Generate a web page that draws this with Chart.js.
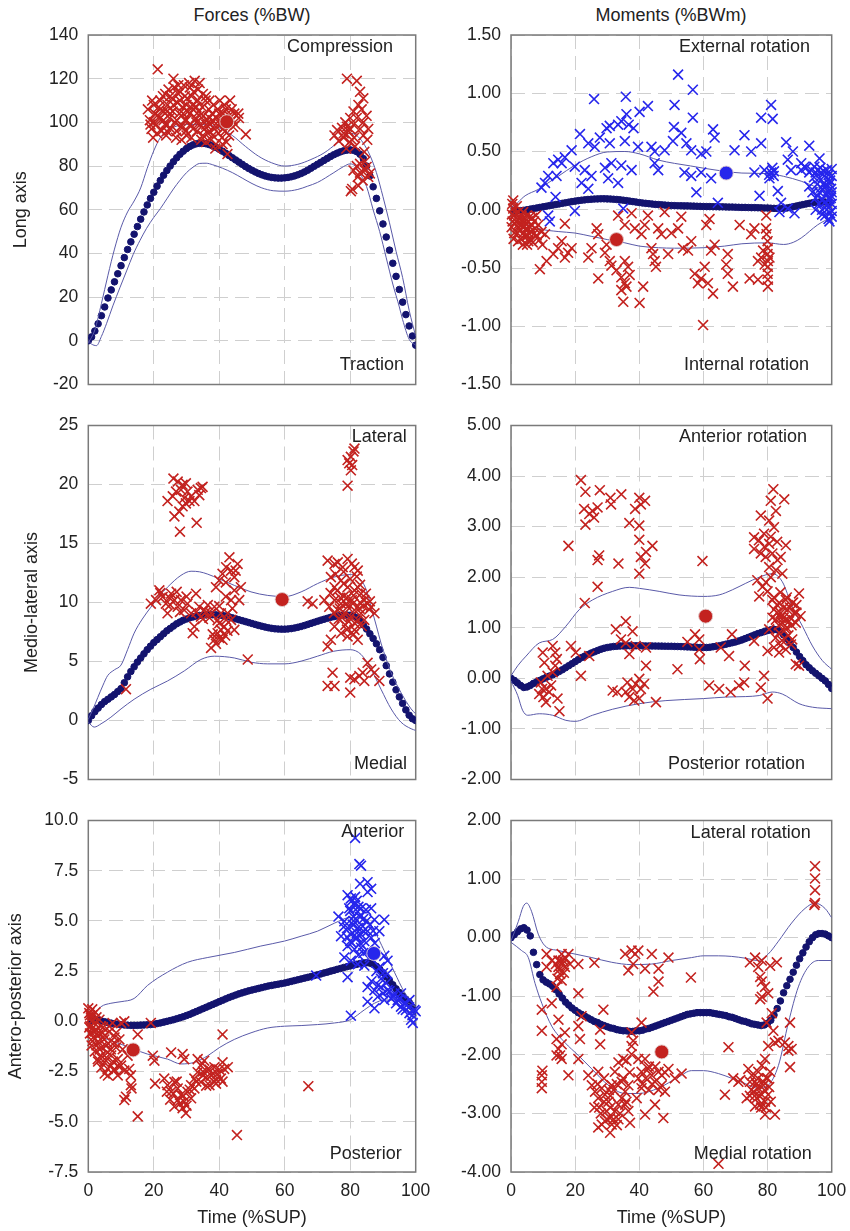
<!DOCTYPE html>
<html>
<head>
<meta charset="utf-8">
<script src="https://cdn.jsdelivr.net/npm/chart.js@4.4.1/dist/chart.umd.min.js"></script>
<style>
  body { margin: 0; background: #fff; font-family: "Liberation Sans", Arial, sans-serif; }
  #page { position: relative; width: 850px; height: 1231px; overflow: hidden; }
  canvas { position: absolute; }
  .coltitle { position: absolute; top: 5px; font-size: 18px; color: #222; transform: translateX(-50%); white-space: nowrap; }
</style>
</head>
<body>
<div id="page">
  <div class="coltitle" style="left:252px">Forces (%BW)</div>
  <div class="coltitle" style="left:671px">Moments (%BWm)</div>
  <canvas id="c0" width="450" height="405" style="left:0;top:0"></canvas>
  <canvas id="c1" width="425" height="405" style="left:425px;top:0"></canvas>
  <canvas id="c2" width="450" height="395" style="left:0;top:405px"></canvas>
  <canvas id="c3" width="425" height="395" style="left:425px;top:405px"></canvas>
  <canvas id="c4" width="450" height="431" style="left:0;top:800px"></canvas>
  <canvas id="c5" width="425" height="431" style="left:425px;top:800px"></canvas>
</div>
<script>
// ---- data: mean curves, one value per 1 %SUP (0..100) ----
const tlMean = [0,1.8,4.5,7.8,11.5,15.5,19.6,23.3,27,30.7,34.4,38.1,41.8,45.3,48.8,52.3,55.7,59,62.2,65.2,68,70.8,73.4,75.8,78,80,82,83.8,85.4,86.8,88,89,89.7,90.2,90.4,90.4,90.2,89.8,89.2,88.5,87.7,86.8,85.8,84.8,83.8,82.8,81.8,80.8,79.8,78.9,78.1,77.3,76.6,76,75.5,75.1,74.8,74.6,74.5,74.5,74.6,74.8,75.1,75.5,76,76.6,77.3,78.1,79,79.9,80.8,81.7,82.6,83.5,84.4,85.2,85.9,86.5,87,87.3,87.4,87.2,86.6,85.4,83.4,80,75.5,70.5,65.2,59.5,53.5,47.5,41.5,35.5,29.5,23.5,17.7,12,6.8,2.2,-2];
const trMean = [0,-0.005,-0.008,-0.008,-0.005,0,0.005,0.01,0.015,0.02,0.025,0.03,0.035,0.04,0.045,0.05,0.055,0.06,0.065,0.07,0.074,0.078,0.082,0.085,0.088,0.09,0.092,0.093,0.094,0.094,0.093,0.092,0.09,0.088,0.085,0.082,0.078,0.074,0.07,0.066,0.062,0.058,0.055,0.052,0.049,0.046,0.044,0.042,0.04,0.038,0.036,0.035,0.034,0.034,0.033,0.033,0.032,0.031,0.03,0.029,0.028,0.027,0.027,0.026,0.026,0.025,0.025,0.024,0.023,0.023,0.022,0.021,0.02,0.02,0.019,0.018,0.018,0.017,0.016,0.015,0.015,0.013,0.012,0.011,0.011,0.012,0.015,0.02,0.026,0.032,0.038,0.044,0.05,0.055,0.06,0.063,0.065,0.066,0.066,0.065,0.064];
const mlMean = [0,0.4,0.75,1.05,1.35,1.6,1.8,2,2.2,2.45,2.7,3.2,3.7,4.15,4.55,4.95,5.3,5.65,6,6.3,6.6,6.85,7.1,7.35,7.6,7.8,8,8.2,8.35,8.5,8.6,8.7,8.78,8.85,8.9,8.93,8.95,8.96,8.96,8.95,8.93,8.9,8.85,8.78,8.7,8.62,8.54,8.46,8.38,8.3,8.22,8.14,8.06,7.99,7.92,7.86,7.81,7.77,7.75,7.74,7.74,7.76,7.79,7.84,7.9,7.97,8.05,8.14,8.23,8.32,8.41,8.5,8.58,8.66,8.74,8.8,8.86,8.9,8.93,8.94,8.92,8.85,8.7,8.45,8.1,7.75,7.35,6.95,6.5,6,5.35,4.65,3.95,3.25,2.6,2,1.45,0.9,0.45,0.15,0];
const mrMean = [0,-0.04,-0.09,-0.14,-0.18,-0.17,-0.14,-0.1,-0.07,-0.04,-0.01,0.02,0.045,0.07,0.1,0.135,0.17,0.21,0.25,0.29,0.33,0.37,0.41,0.44,0.47,0.5,0.525,0.55,0.575,0.595,0.61,0.62,0.63,0.635,0.64,0.642,0.643,0.644,0.644,0.644,0.643,0.642,0.641,0.64,0.64,0.639,0.638,0.637,0.636,0.635,0.634,0.632,0.63,0.628,0.625,0.622,0.619,0.616,0.613,0.611,0.61,0.61,0.615,0.625,0.635,0.645,0.66,0.675,0.69,0.705,0.72,0.74,0.76,0.785,0.81,0.835,0.86,0.885,0.905,0.925,0.945,0.96,0.97,0.96,0.92,0.86,0.78,0.7,0.61,0.52,0.43,0.35,0.27,0.21,0.15,0.1,0.05,0,-0.05,-0.12,-0.2];
const blMean = [0,0.05,0.08,0.06,0.02,-0.02,-0.06,-0.09,-0.12,-0.14,-0.16,-0.18,-0.19,-0.2,-0.2,-0.2,-0.19,-0.18,-0.17,-0.16,-0.14,-0.11,-0.08,-0.04,0,0.04,0.08,0.13,0.18,0.23,0.29,0.35,0.42,0.49,0.56,0.63,0.7,0.77,0.84,0.91,0.98,1.05,1.12,1.19,1.25,1.31,1.37,1.42,1.47,1.52,1.56,1.6,1.64,1.68,1.72,1.76,1.79,1.82,1.85,1.88,1.91,1.95,1.99,2.03,2.07,2.11,2.15,2.19,2.23,2.28,2.32,2.36,2.41,2.45,2.5,2.54,2.59,2.63,2.68,2.72,2.76,2.8,2.84,2.88,2.91,2.92,2.9,2.84,2.74,2.6,2.42,2.22,2.02,1.82,1.62,1.44,1.26,1.1,0.95,0.7,0.5];
const brMean = [0,0.05,0.1,0.15,0.17,0.13,0.03,-0.25,-0.46,-0.63,-0.72,-0.76,-0.79,-0.83,-0.89,-0.96,-1.03,-1.1,-1.15,-1.2,-1.24,-1.28,-1.31,-1.34,-1.37,-1.4,-1.43,-1.45,-1.48,-1.5,-1.52,-1.54,-1.55,-1.57,-1.58,-1.59,-1.59,-1.6,-1.6,-1.59,-1.59,-1.58,-1.56,-1.55,-1.53,-1.51,-1.49,-1.47,-1.45,-1.43,-1.41,-1.39,-1.37,-1.35,-1.33,-1.31,-1.3,-1.29,-1.28,-1.28,-1.28,-1.28,-1.28,-1.29,-1.3,-1.31,-1.32,-1.33,-1.35,-1.36,-1.38,-1.4,-1.42,-1.43,-1.45,-1.47,-1.48,-1.49,-1.5,-1.49,-1.46,-1.41,-1.32,-1.21,-1.08,-0.94,-0.82,-0.71,-0.59,-0.47,-0.36,-0.26,-0.16,-0.07,0,0.05,0.07,0.07,0.06,0.03,0];

// ---- data: corridor lines [t, value] ----
const tlUpper = [[0,-1],[2,5],[4,17],[6,30],[8,42],[10,52],[12,59],[14,64],[16,70],[18,79],[20,87],[22,93],[25,97],[30,99],[35,99],[40,97.5],[44,94],[48,89],[52,84.5],[56,81.5],[60,80],[64,80.8],[68,83],[72,86],[76,90.5],[80,95],[82,94],[84,90.5],[86,85],[88,77],[90,66],[92,54],[94,41],[96,29],[98,14],[100,2]];
const tlLower = [[0,0],[1,-1.5],[2.5,-2.2],[4,2],[5.6,8],[7.5,16],[9.7,24.5],[11.7,32],[13.7,39.5],[15.8,46],[17.8,51.5],[20,56.5],[22,60.5],[24,65],[26,69.5],[28,73.5],[30,77],[32,79.5],[34,81.2],[36,81.3],[38,80.6],[41,79],[44,77],[47,74.5],[50,72],[53,70],[56.5,68.7],[60,68.5],[64,69.3],[67,70.8],[70,72.5],[75,77],[78,79.8],[80,81],[81.5,80],[83,76.5],[85,70.6],[87,60],[89,50],[91,38],[93,26],[95,15.5],[96,9.7],[98,0.7],[100,-2]];
const trUpper = [[0,0.02],[2,0.06],[4.4,0.12],[8.5,0.175],[11,0.22],[14.7,0.287],[20,0.384],[25,0.454],[30,0.496],[35.5,0.5],[40,0.48],[46,0.426],[51,0.398],[56,0.376],[60,0.357],[66.6,0.33],[72,0.315],[80,0.31],[85,0.287],[90.5,0.245],[95.6,0.19],[100,0.148]];
const trLower = [[0,-0.02],[2,-0.06],[4.4,-0.103],[8.5,-0.16],[14.7,-0.187],[20,-0.2],[25,-0.228],[30,-0.256],[35.5,-0.284],[40,-0.312],[46,-0.326],[51,-0.33],[60,-0.326],[66.6,-0.312],[72,-0.292],[80,-0.284],[85,-0.298],[88,-0.28],[90.5,-0.242],[95.6,-0.13],[100,-0.061]];
const mlUpper = [[0,0.1],[1.5,1],[2.9,1.95],[4.5,3],[5.9,3.8],[8,4.3],[10,4.7],[12,6],[14,7.4],[16.5,8.6],[19.1,9.6],[21.5,10.5],[24.2,11.3],[28.3,12.3],[31.4,12.65],[34,12.6],[36.5,12.4],[40,12],[44.6,11.45],[49.7,10.9],[54.8,10.6],[60,10.5],[65,10.9],[70,11.6],[75,12.15],[80,12.37],[83.3,11.9],[85,11],[86.4,9.6],[88,8],[89.4,6.56],[91,5.2],[92.5,4.05],[95.5,2.37],[98.6,0.98],[100,0.56]];
const mlLower = [[0,-0.14],[1.8,-0.56],[3.9,-0.28],[6.9,0.28],[10,0.98],[14,1.8],[19.1,2.65],[24.2,3.35],[29.3,4.2],[34.4,5.17],[38.5,5.45],[44.6,5.3],[49.7,4.94],[54.8,4.8],[60,4.8],[65,5.03],[70,5.45],[75,5.87],[80,6],[83.3,5.6],[86.4,4.33],[89.4,2.65],[92.5,0.98],[95.5,-0.14],[98.6,-0.7],[100,-0.84]];
const mrUpper = [[0,0.05],[2.1,0.25],[4.7,0.44],[8.8,0.7],[13,0.77],[17.1,1.03],[21.3,1.36],[25.4,1.55],[31.7,1.72],[36.9,1.8],[40,1.78],[46.2,1.72],[52.4,1.65],[60,1.62],[64.9,1.65],[69,1.75],[73.2,1.88],[77.4,2],[81.5,2.07],[84.6,1.91],[87.7,1.42],[90.9,1.03],[94,0.64],[97.1,0.35],[100,0.18]];
const mrLower = [[0,-0.05],[2.1,-0.34],[3.6,-0.63],[5.2,-0.73],[8.8,-0.7],[13,-0.73],[17.1,-0.83],[20,-0.85],[25.4,-0.73],[31.7,-0.61],[40,-0.5],[48.3,-0.44],[60,-0.4],[67,-0.37],[73.2,-0.36],[77.4,-0.34],[81.5,-0.27],[84.6,-0.31],[89.8,-0.5],[94,-0.57],[100,-0.6]];
const blUpper = [[0,0],[3.9,0.73],[6.9,0.9],[10,0.98],[14,1.14],[18.1,1.79],[24.2,2.45],[30.3,2.94],[36.5,3.18],[44.6,3.43],[52.7,3.75],[60,4],[65,4.24],[70,4.49],[75.2,4.89],[80,5.17],[84.3,5.14],[87.4,4.49],[90.4,3.51],[93.5,2.45],[96.5,1.47],[100,0.73]];
const blLower = [[0,-0.08],[2.9,-0.73],[5.9,-0.9],[10,-1.14],[14,-1.39],[18.1,-1.63],[24.2,-1.88],[28.3,-2.12],[32.4,-2.04],[36.5,-1.71],[40,-1.31],[44.6,-0.9],[49.7,-0.57],[54.8,-0.33],[60,-0.24],[65,-0.21],[70,-0.16],[75.2,-0.08],[80,0.08],[84.3,0.57],[87.4,0.9],[90.4,1.06],[93.5,1.06],[96.5,0.98],[100,0.73]];
const brUpper = [[0,-0.06],[2.3,0.28],[3.8,0.53],[4.9,0.59],[6.4,0.45],[8.5,0.06],[10.6,-0.14],[14.8,-0.22],[20,-0.28],[25.2,-0.34],[31.4,-0.42],[37.6,-0.46],[43.9,-0.45],[50.1,-0.39],[56.3,-0.34],[60,-0.31],[64.7,-0.31],[68.8,-0.32],[73,-0.35],[77.1,-0.39],[80.2,-0.28],[83.4,-0.06],[87.5,0.25],[91.7,0.5],[94.8,0.59],[97.9,0.5],[100,0.34]];
const brLower = [[0,-0.08],[3.3,-0.22],[5.4,-0.34],[7.5,-0.78],[9.6,-1.12],[12.7,-1.51],[16.8,-1.79],[21,-2.01],[25.2,-2.24],[30.4,-2.52],[35.6,-2.66],[39.7,-2.66],[45.9,-2.57],[52.2,-2.38],[56.3,-2.27],[60,-2.27],[64.7,-2.32],[68.8,-2.4],[73,-2.49],[77.1,-2.57],[80.2,-2.52],[83.4,-2.18],[86.5,-1.45],[89.6,-0.84],[92.7,-0.5],[95.8,-0.39],[100,-0.39]];

// ---- data: individual trials [t, value] ----
const tlRed = [[18.2,106],[18.8,101],[19.3,97],[19.5,110],[19.8,93],[20.3,104],[20.8,99],[21.2,124.3],[21.5,107],[22,102],[22.3,96],[22.8,112],[23,105],[23.4,99],[23.8,94],[24.2,108],[24.5,115],[24.8,102],[25.2,97],[25.5,111],[25.8,105],[26.2,116],[26.5,100],[26.8,93],[27.2,109],[27.5,113],[27.8,104],[28.2,98],[28.5,92],[28.8,107],[29.2,117],[29.5,101],[29.8,96],[30.2,111],[30.5,105],[30.8,118],[31.2,99],[31.5,93],[31.8,108],[32.2,114],[32.5,119],[32.8,102],[33.2,96],[33.5,110],[33.8,105],[34.2,99],[34.5,92],[34.8,107],[35.2,103],[35.5,97],[35.8,110],[36.2,101],[36.5,95],[36.8,106],[37.2,99],[37.5,92],[37.8,104],[38.2,108],[38.5,97],[38.8,88],[39.2,102],[39.5,106],[39.8,95],[40.2,110],[40.5,99],[40.8,93],[41.2,104],[41.5,108],[41.8,96],[42.2,91],[42.5,85.5],[43,103],[43.3,110],[43.8,106],[44.2,98],[44.6,104],[45.8,104],[48.1,94.5],[23.5,113],[26,120],[34,118],[31,116],[28,114],[25,112],[36,112],[38,101],[40,104],[33,100],[29,104],[27,96],[24,99],[21,103],[30,108],[37,96],
  [19,99],[20,108],[21,95],[22,110],[23,101],[24,96],[25,104],[26,108],[27,101],[28,110],[29,98],[30,94],[31,104],[32,97],[33,107],[34,103],[35,94],[36,99],[37,110],[38,94],[39,98],[40,101],[41,97],[42,106],[43,94],[44,101],[29.5,112],[31.5,112],[33.5,115],[27.5,117],[30,101],[32,106],[35,113],[37,102],[39,90],[41,90],[36,91],[24,105],[22,106],[20,100],[45,99],[46,102],
  [75.2,94],[76,96.5],[76.5,91.5],[77.5,97.5],[78,93],[78.5,100],[79,120],[79.5,96],[80,102],[80.2,68.5],[80.6,69.5],[81,105],[81.2,93],[81.5,89],[82,119],[82.3,75],[82.5,108],[83,114],[83,81],[83.5,106],[83.8,73.4],[84,111],[84,100],[84.3,86.5],[84.5,82],[85,103],[85,79.6],[85.2,92],[85.5,97],[86,76.6],[81,78],[82,80],[79.8,91],[78.8,88],
  [78,95],[79,98],[80,97],[81,99],[82,102],[83,97],[84,94],[80.5,92],[83,77],[84.5,78],[85.5,75],[82.5,71]];
const trBlue = [[52.1,1.16],[56.7,1.03],[25.9,0.95],[35.8,0.97],[51,0.9],[81.1,0.9],[78,0.79],[81.6,0.78],[42.7,0.89],[40.1,0.84],[36,0.82],[34.4,0.76],[33.4,0.73],[36.7,0.73],[38.2,0.7],[30.8,0.72],[29.8,0.7],[56.7,0.79],[50.8,0.71],[53.1,0.66],[63,0.69],[63.5,0.62],[21.5,0.65],[27.7,0.62],[24.1,0.57],[26.1,0.54],[30.8,0.57],[35.5,0.59],[39.6,0.54],[43.8,0.54],[44.8,0.5],[47.9,0.51],[50.5,0.59],[54.7,0.57],[56.2,0.51],[59.3,0.48],[60.9,0.5],[69.7,0.51],[72.8,0.64],[74.9,0.5],[78,0.57],[85.8,0.58],[87.9,0.5],[93,0.55],[96.2,0.44],[86.3,0.43],[90.5,0.4],[18.9,0.51],[16.8,0.45],[14.7,0.43],[13.2,0.4],[15.8,0.4],[19.9,0.37],[23,0.34],[29.3,0.36],[31.3,0.4],[34.4,0.38],[37.6,0.34],[44.8,0.4],[45.9,0.34],[54.1,0.32],[56.2,0.29],[59.3,0.32],[62.4,0.27],[75.9,0.32],[79,0.34],[81.1,0.32],[81.9,0.29],[80.6,0.27],[87.3,0.34],[90.5,0.34],[91.5,0.37],[93,0.32],[11.6,0.29],[9.5,0.19],[10.6,0.23],[14.2,0.29],[22,0.23],[25.1,0.29],[33.4,0.23],[24.1,0.18],[30.3,0.27],[57.8,0.15],[77.5,0.12],[83.2,0.16],[84.2,0.06],[64.5,0.06],[13.9,0.11],[19.9,-0.01],[35,0.01],[11.6,-0.05],[12.1,-0.1],[83.7,-0.02],[88.4,-0.03],[86.3,0.01],
  [94.6,0.37],[95.6,0.34],[96.7,0.32],[97.7,0.29],[98.8,0.26],[99.3,0.22],[99.8,0.18],[97.7,0.23],[96.7,0.19],[98.2,0.13],[99.3,0.09],[100,0.05],[100,-0.01],[100,-0.06],[98.8,0.04],[97.7,0.06],[95.6,0.12],[97.2,0.09],[99.3,-0.1],[99.8,0.12],[100,0.29],[95,0.32],[93.6,0.34],[92,0.36],[98,0.2],[99,0.3],[96,0.27],[100,0.15],[99.5,-0.03],[98.5,0],
  [93,0.2],[94,0.15],[95,0.1],[96,0.05],[97,0],[98,-0.05],[99,-0.08],[96.5,0.36],[97.5,0.33],[98.5,0.34],[99.5,0.25],[94.5,0.28],[95.5,0.22],[96.2,0.15],[98.8,0.16],[99.7,0.1],[100,0.35],[97,-0.04],[95,0],[82,0.33],[80.5,0.3],[81.5,0.36]];
const trRed = [[0.4,0.05],[0.7,0.01],[1,-0.05],[1.5,-0.1],[2.1,-0.15],[2.8,-0.17],[3.3,-0.13],[3.8,-0.2],[4.4,-0.23],[4.9,-0.16],[5.4,-0.27],[6.2,-0.26],[7,-0.21],[7.5,-0.16],[2.3,-0.02],[3.3,-0.05],[4.4,-0.08],[5.4,-0.1],[6.4,-0.13],[8.5,-0.13],[9.5,-0.19],[10.6,-0.21],[0.7,0.08],[1.8,0.03],[2.8,-0.08],[3.8,-0.02],[4.9,-0.05],[5.9,-0.06],[6.4,-0.19],[1.2,-0.12],[2,-0.2],[3,-0.25],[5,-0.3],[0.3,-0.04],
  [0.5,-0.1],[1,-0.2],[1.5,-0.03],[2.5,-0.12],[3.5,-0.08],[4,-0.15],[4.5,-0.12],[5.5,-0.2],[6,-0.15],[6.8,-0.28],[7.2,-0.1],[8,-0.22],[0.2,-0.15],[0.8,-0.25],[2.2,-0.27],[3.7,-0.3],[5.2,-0.22],[6.6,-0.07],[7.8,-0.05],[8.8,-0.26],[9.8,-0.3],
  [9,-0.51],[11.1,-0.44],[13.2,-0.38],[14.7,-0.33],[16.8,-0.12],[15.8,-0.27],[17.8,-0.37],[18.9,-0.33],[16.8,-0.41],[24.1,-0.41],[26.7,-0.16],[27.2,-0.21],[25.1,-0.33],[27.2,-0.59],[29.3,-0.37],[29.8,-0.3],[30.8,-0.44],[31.3,-0.48],[32.9,-0.52],[34.4,-0.58],[35.5,-0.63],[36,-0.66],[34.4,-0.69],[35,-0.79],[36.5,-0.49],[37,-0.56],[35.5,-0.44],[33.4,-0.05],[35.5,-0.13],[37.6,-0.03],[38.6,-0.16],[40.1,-0.8],[41.2,-0.66],[40.7,-0.21],[41.7,-0.13],[42.7,-0.05],[43.8,-0.33],[44.3,-0.38],[44.8,-0.44],[45.2,-0.49],[45.9,-0.16],[46.9,-0.21],[47.9,-0.02],[49,-0.38],[50,-0.2],[52.1,-0.16],[53.1,-0.06],[53.6,-0.33],[55.2,-0.35],[56.2,-0.27],[57.3,-0.55],[58.3,-0.63],[59.3,-0.59],[59.9,-0.99],[60.4,-0.49],[61.4,-0.63],[60.9,-0.13],[61.9,-0.08],[63,-0.72],[62.4,-0.35],[63.5,-0.3],[67.6,-0.38],[67.6,-0.55],[69.2,-0.66],[67.1,-0.47],[71.3,-0.13],[74.9,-0.21],[75.9,-0.16],[74.4,-0.59],[77,-0.44],[78,-0.41],[79.6,-0.05],[79.5,-0.16],[79.7,-0.21],[80,-0.27],[80.1,-0.33],[80,-0.38],[80.1,-0.44],[80.1,-0.49],[80,-0.55],[80.1,-0.6],[80.1,-0.66],[79.1,-0.47],[78.6,-0.35],[80.6,-0.41],[77,-0.6]];
const mlRed = [[26,20.5],[27.3,20.25],[28.8,19.97],[29.8,20.1],[24.2,18.6],[25.8,19],[26.8,19.4],[28.3,19.55],[29.3,18.85],[30.3,19.4],[31.4,19],[32.4,18.6],[33.4,19.55],[34.4,19.7],[33.9,19.1],[26.3,17.3],[27.8,17.7],[28.8,18.15],[29.8,18.4],[30.9,18.6],[28,16],[33.1,16.75],[34.9,19.8],
  [79.2,19.9],[79.2,22.07],[80.2,22.35],[81.3,23.05],[80.2,21.2],[81,22.8],[79.7,21.8],[80.6,21.65],
  [19.1,9.9],[20.7,10.2],[21.7,11.03],[22.7,10.47],[23.7,9.9],[24.2,9.08],[25.3,10.75],[26.3,10.2],[27.3,9.64],[28.3,10.2],[29.3,9.36],[30.3,9.9],[31.4,9.08],[31.9,7.4],[32.4,7.96],[32.9,10.75],[33.9,9.64],[34.4,8.8],[35.4,9.36],[36.5,9.78],[37.5,9.08],[38.5,9.64],[37.5,6.15],[38.5,6.84],[39.5,7.4],[40,8.24],[40.5,7.68],[41,6.84],[41.5,7.96],[42.1,8.52],[42.6,9.08],[39,11.3],[40,11.87],[41,12.43],[42.1,12.99],[43.1,13.83],[43.6,12.7],[44.6,12.15],[45.6,13.27],[46.1,10.2],[44.6,11.03],[43.6,10.2],[46.6,11.3],[40.5,9.08],[43.6,8.52],[44.6,7.68],[48.7,5.17],[11.5,2.65],[67,10.1],[68.5,9.9],[22,10.8],[24.8,10.4],[27,10.9],[36,9.2],[39.5,8.5],[41.8,7.2],[39,6.5],
  [25,9.8],[28,9.2],[30,10.5],[33,9.2],[35,8.6],[37,8.7],[40,9.7],[42,10.5],[44,9.5],[45,12.7],[42,11.7],[38,7.3],[40,7],[42.5,7.6],
  [73.1,13.55],[75.2,13.27],[76.2,13.4],[77.7,12.99],[79.2,13.69],[81.3,12.99],[82.3,12.7],[74.1,12.15],[75.2,11.3],[77.2,11.87],[79.2,11.3],[81.3,11.03],[83.3,10.75],[84.3,10.2],[85.3,9.9],[86.4,9.64],[87.4,9.08],[72.1,10.2],[73.6,9.64],[75.2,10.2],[76.2,9.36],[77.2,9.9],[78.2,9.08],[79.2,9.64],[80.2,8.8],[81.3,9.36],[82.3,8.52],[83.3,9.08],[84.3,8.52],[75.2,7.96],[77.2,7.4],[79.2,7.12],[81.3,7.68],[82.3,6.84],[73.1,6.28],[74.1,6.84],[73.1,2.93],[75.2,2.93],[74.6,4.05],[80,3.63],[80,2.37],[81.3,3.49],[82.8,3.77],[83.8,4.05],[84.3,3.35],[85.3,4.89],[86.4,4.33],[87.4,4.05],[88.9,3.35],[82.3,11.3],[84.8,10.75],[78,10.5],[80.5,10.2],[76.5,8.6],[78.5,8.1],[83,10],[85.8,9.4],
  [74,10.8],[76,11],[78,11.6],[80,12],[82,12.2],[79,10.4],[81,10.6],[83,11.5],[76.8,9.5],[78.8,9.9],[80.8,9.9],[82.8,9.5],[77.5,8.7],[79.5,8.4],[81.5,8.2],[83.5,8],[79,7.7],[81,7.3],[78,12.6],[80.5,13.3],[75.5,12.4],[84,9.7],[86,10.1],[77,10.4],[75,9.1]];
const mrRed = [[21.8,3.92],[23.2,3.69],[22.8,3.35],[23.2,3.04],[24.4,3.25],[25.4,3.31],[27,3.38],[25.9,3.18],[27.7,3.72],[31,3.57],[31.2,3.44],[34.4,3.64],[38.7,3.35],[40,3.57],[40.5,3.44],[41.8,3.51],[36.9,3.07],[40,3.02],[40,2.74],[44.1,2.62],[42.1,2.5],[40.5,2.4],[41.8,2.27],[40,2.07],[33.5,2.27],[27.5,2.43],[27,2.34],[17.9,2.62],[27,1.81],[23,1.49],[59.7,2.32],
  [9.9,0.51],[10.4,0.31],[9.3,-0.08],[9.7,-0.21],[10.1,-0.37],[10.9,-0.47],[11.9,-0.27],[12.5,-0.14],[13.8,0.25],[14.3,0.38],[13.8,0.51],[13,0.64],[14.5,-0.4],[15.1,-0.65],[11.4,0.05],[13,0.12],[8.8,-0.31],[10.9,-0.21],[18.7,0.64],[20.2,0.51],[21.8,0.05],[24.4,0.44],[32.7,0.97],[35.8,1.13],[37.9,0.93],[34.3,0.77],[35.8,0.7],[36.9,0.48],[38.9,0.64],[42.1,0.61],[31.7,-0.24],[33.2,-0.27],[35.8,-0.27],[36.9,-0.37],[38,-0.21],[38.9,-0.11],[40,-0.01],[40.5,-0.21],[41.5,-0.11],[42.1,0.25],[38.4,-0.44],[40,-0.4],[36.3,-0.08],[45.2,-0.47],[51.9,0.18],[55,0.72],[57.4,0.87],[58.7,0.77],[58.7,0.57],[58.9,0.38],[61.8,-0.14],[64.9,-0.21],[65.4,0.61],[68,0.44],[68.9,0.87],[68.5,-0.27],[71.1,-0.14],[72.7,-0.08],[72.9,0.25],[75.8,0.74],[78.9,0.05],[77.9,-0.18],[80,-0.4],
  [81.8,3.74],[81,3.51],[82.6,3.31],[85.2,3.54],[77.9,3.22],[80.5,3.12],[82,2.99],[75.8,2.79],[77.3,2.73],[78.9,2.86],[80.5,2.66],[85.7,2.63],[75.8,2.56],[77.9,2.47],[79.4,2.4],[81.5,2.47],[83.1,2.34],[84.1,2.4],[80.5,2.2],[82.6,2.14],[84.6,2.07],[76.8,1.94],[78.4,1.81],[80,1.72],[77.4,1.62],[81.5,1.55],[83.6,1.49],[85.7,1.55],[87.7,1.49],[89.8,1.68],[82,1.36],[84.1,1.29],[86.2,1.36],[88.3,1.29],[90.3,1.23],[82.6,1.16],[84.6,1.1],[86.7,1.13],[88.8,1.1],[80.5,0.97],[83.6,0.9],[85.7,0.97],[87.7,0.77],[82,0.61],[83.6,0.51],[85.7,0.57],[80,0.54],[87.3,0.67],[88.8,0.28],[89.8,0.25],[83,1.45],[85,1.4],[87,1.2],[84,1.2],[86,1],
  [82,1.6],[84,1.7],[86,1.6],[88,1.5],[83,1.3],[85,1.2],[87,1.4],[89,1.3],[82.5,0.8],[84.5,0.75],[86.5,0.85],[81,2.8],[83,2.7],[79,2.6],[81,2],[79.5,1.9],[81.5,1.2],[83.5,1.05],[85.5,1.15],[87.5,1.05],[89,1.45],[84,0.65]];
const blRed = [[0,0.65],[0.3,0.41],[0.8,0.16],[0.6,-0.24],[1,-0.57],[1.3,-0.98],[1.8,-0.08],[2.3,-0.41],[2.9,-0.73],[3.4,0.08],[3.9,-0.24],[4.4,-0.57],[4.9,-0.9],[5.4,-1.22],[5.9,-1.55],[3.9,-1.71],[2.9,-1.88],[4.9,-2.04],[5.9,-2.37],[6.9,-2.2],[7.9,-2.45],[9,-1.88],[6.9,-1.39],[7.9,-1.06],[6.4,-0.24],[7.4,-0.08],[8.5,-0.57],[9.5,-0.9],[10,-0.08],[11,0],[10.5,-1.39],[12,-1.71],[10,-2.2],[11,-2.45],[9,-2.69],[12.5,-2.37],[13,-2.69],[13,-3.18],[13.2,-3.34],[11.5,-3.75],[11,-3.92],[15.1,-4.73],[15.1,-0.65],[19.1,-0.08],[19.7,-1.71],[20.2,-1.96],[20.4,-3.1],[1.5,-0.3],[2.5,-1.2],[3.5,-1.4],[0.5,-0.6],[1.2,0.3],
  [0.5,0.3],[1,0],[1.5,-0.8],[2,-0.5],[2.5,0.2],[3,-1],[3.5,-0.6],[4,-1.3],[4.5,-0.3],[5,-0.7],[5.5,-1.8],[6,-1.1],[6.5,-0.5],[7,-1.7],[7.5,-2],[8,-0.8],[8.5,-1.3],[9,-2.2],[1,-1.2],[2,-1.5],[3,-2],[4,-2.3],[5,-2.6],[6,-2.7],[8,-2.4],[0.3,-0.3],[1.2,0.6],[2.2,0.45],
  [25.3,-1.55],[28.8,-1.63],[29.3,-1.88],[23.2,-2.85],[24.2,-3.18],[25.3,-3.51],[26.3,-3.02],[27.3,-3.34],[28.3,-3.67],[29.3,-4],[28.8,-4.32],[29.8,-4.57],[27.3,-3.92],[26.3,-4.24],[30.3,-3.51],[31.4,-3.18],[32.4,-2.85],[33.4,-2.53],[34.4,-2.2],[33.4,-1.88],[35.4,-1.96],[36.5,-2.37],[37.5,-2.69],[38.5,-3.02],[39.5,-2.61],[40.5,-2.85],[41.5,-2.37],[42.6,-2.28],[41,-2.04],[38.5,-2.28],[37,-3.18],[34.4,-3.02],[32.4,-3.34],[31.4,-3.83],[41,-0.65],[45.4,-5.66],[67.2,-3.23],[36,-2.8],[39,-2.9],[35,-2.5],
  [26,-3.6],[27,-3],[28,-4.1],[29,-3.7],[30,-4.2],[31,-3.4],[33,-3],[35,-2.7],[37,-2.4],[38,-2.6],[39,-3.1],[40,-2.4],[41,-3],[36,-3.2],[24,-3.5],[25,-3.9]];
const blBlue = [[81.5,9.13],[82.8,7.83],[83.3,7.75],[83,6.85],[85.3,6.93],[85.3,6.44],[86.4,6.6],[79.2,6.28],[80.2,6.12],[79.7,5.63],[81.3,5.79],[82.3,5.46],[83.3,5.63],[84.8,5.55],[86.4,5.63],[87.4,5.06],[76.4,5.22],[78.2,4.98],[79.2,4.65],[80.8,4.81],[82.3,4.65],[83.8,4.73],[85.3,4.49],[77.2,4.24],[80.2,4.32],[81.8,4.16],[83.3,4.32],[84.3,4],[86.4,4.16],[88.9,4.49],[90.4,5.06],[79.2,3.75],[81.3,3.59],[83.3,3.67],[85.3,3.51],[78.2,3.18],[80.2,3.02],[82.3,2.85],[84.3,2.77],[79.2,2.2],[69.6,2.28],[90.4,3.26],[91.4,3.02],[85.3,1.71],[87.4,1.55],[89.4,1.71],[91.4,1.55],[93.5,1.39],[88.4,1.22],[90.4,1.06],[92.5,1.14],[94.5,1.06],[95.5,0.73],[97,0.57],[98.1,0.41],[98.6,0.08],[99.1,-0.08],[96.5,0.9],[85.3,0.98],[87.4,0.65],[80.2,0.28],[89.4,2.12],[91.4,2.37],[95.5,1.39],[98.1,1.06],[99.6,0.57],[81,5],[82,4.4],[84,5.1],[80.5,3.9],[82.5,3.3],
  [80,5.5],[81,5.2],[82,6],[83,5.2],[84,4.5],[85,5],[86,4.8],[87,4.5],[81,4.8],[82,4.2],[83,3.9],[84,3.4],[80,4],[79,4.2],[78,4.7],[82.5,5.7],[80.5,6],[81.5,6.2],[86,3.2],[87.5,3.9],[88,2.5],[89,2.7],[90,2.4],[91,1.9],[92,1.5],[93,1.2],[94,0.9],[95,1.1],[96,0.6],[97,0.9],[98,0.7],[99,0.3],[100,0.5],[86.5,2],[88.5,1.8],[90,1.4]];
const brRed = [[94.8,1.22],[94.8,1.01],[94.8,0.81],[94.8,0.59],[94.6,0.56],
  [9.6,-2.57],[9.6,-2.46],[9.6,-2.35],[9.8,-2.27],[9.6,-1.59],[9.6,-1.23],[11.1,-0.5],[11.1,-0.28],[12.7,-0.39],[12.7,-1.12],[14.8,-0.39],[14.8,-0.5],[15.3,-0.62],[15.8,-0.28],[16.3,-0.39],[16.8,-0.5],[15.8,-0.73],[14.2,-0.84],[14.8,-1.4],[14.2,-1.73],[14.8,-1.9],[15.8,-2.07],[15.3,-2.01],[14.2,-2.01],[17.9,-2.35],[16.8,-1.62],[15.8,-1.82],[17.9,-0.28],[18.4,-0.45],[21,-0.45],[21,-0.95],[21,-1.51],[21.5,-1.73],[22,-1.34],[21,-2.07],[26,-0.43],[28.8,-1.23],[27.8,-1.57],[27.8,-1.82],[27.2,-2.29],
  [14,-0.45],[15,-0.55],[16,-0.45],[17,-0.35],[15.5,-0.4],[16.5,-0.6],[14.5,-0.7],
  [24.1,-2.35],[25.2,-2.52],[26.2,-2.63],[27.2,-2.74],[28.3,-2.57],[29.3,-2.68],[30.4,-2.8],[29.8,-2.96],[30.9,-3.08],[31.4,-3.19],[29.3,-3.13],[27.2,-3.24],[28.3,-3.19],[30.9,-3.33],[32.4,-2.96],[33.5,-2.85],[34.5,-2.74],[35.6,-2.63],[36.6,-2.52],[35.6,-2.85],[36.6,-2.96],[37.1,-3.16],[34.5,-2.46],[32.4,-2.29],[33.5,-2.13],[35,-2.07],[36,-2.1],[31.4,-2.52],[33.5,-3.1],
  [26,-2.9],[27,-2.5],[28,-3],[29,-2.4],[30,-3.1],[31,-2.7],[32,-2.6],[33,-3.2],[34,-3],[35,-2.4],[36,-2.8],[37,-2.3],[29,-2.8],[31,-2.9],[33,-2.5],[27.5,-2.9],[32,-3.1],[30.5,-2.6],
  [35.6,-0.28],[36.6,-0.56],[37.6,-0.22],[38.7,-0.28],[39.7,-0.22],[38.1,-0.45],[41.8,-0.53],[43.9,-0.28],[46,-0.53],[46,-0.75],[44.4,-0.92],[49.1,-0.34],[56.1,-0.68],[37.6,-1.62],[38.1,-1.76],[40.7,-1.45],[37.6,-1.99],[39.7,-2.07],[40.7,-2.29],[41.8,-2.07],[42.8,-2.24],[43.9,-2.35],[44.9,-2.46],[46,-2.29],[47,-2.52],[48,-2.63],[44.9,-2.85],[41.8,-3.02],[47.5,-3.08],[49.1,-2.24],[51.1,-2.4],[53.2,-2.32],[40.7,-2.57],[39.2,-2.74],[37.6,-1.85],[39.7,-2.4],
  [42,-2.4],[43,-2.2],[44,-2.5],[45,-2.2],[46,-2.6],[47,-2.35],[48,-2.3],[43,-2.6],[41,-2.5],
  [64.7,-3.86],[66.7,-2.68],[67.8,-1.87],[69.3,-2.4],[70.9,-2.46],
  [74.5,-0.42],[76.1,-0.34],[77.1,-0.5],[78.2,-0.39],[77.7,-0.67],[78.2,-0.75],[79.2,-0.84],[78.2,-1.01],[77.7,-1.05],[80.2,-0.95],[80.8,-0.48],[82.9,-0.42],[81.3,-1.29],[81.8,-1.59],[79.7,-1.45],[80.2,-1.85],[79.2,-2.07],[82.3,-1.79],[83.4,-1.76],[85.4,-1.79],[86.5,-1.85],[87,-1.45],[87,-2.21],[86.5,-1.93],[87.5,-1.9],
  [74,-2.24],[75.1,-2.35],[76.1,-2.46],[77.1,-2.57],[78.2,-2.68],[79.2,-2.8],[75.6,-2.63],[76.6,-2.74],[77.7,-2.85],[78.7,-2.52],[79.7,-2.4],[74.5,-2.46],[73.5,-2.74],[77.1,-2.29],[78.2,-2.18],[80.2,-2.68],[79.2,-3.02],[82.3,-3.02],[76.1,-2.88],[80.8,-2.29],[71.5,-2.43],
  [75,-2.6],[76,-2.7],[77,-2.4],[78,-2.9],[79,-2.6],[80,-2.4],[81,-2.8],[77.5,-2.7],[78.5,-2.45],[76.5,-2.5],[79.5,-2.9],[80.5,-2.55],[74.5,-2.7]];

// ---- data: group means (big dots) ----
const tlDotRed = [[42.3,100.3]];
const trDotRed = [[32.9,-0.256]];
const trDotBlue = [[67.1,0.315]];
const mlDotRed = [[59.2,10.25]];
const mrDotRed = [[60.7,1.23]];
const blDotRed = [[13.7,-1.42]];
const blDotBlue = [[87.2,3.38]];
const brDotRed = [[47,-1.95]];

// ---- styling ----
const FONT = '"Liberation Sans", Arial, sans-serif';
const RED = '#c3221f';
const BLUE = '#2626ec';
const NAVY = '#13136e';
const BAND = '#5a5aa8';

function pts(arr) { return arr.map(p => ({ x: p[0], y: p[1] })); }
function meanPts(arr) { return arr.map((v, i) => ({ x: i, y: v })); }

// frame + corner labels
function panelPlugin(texts) {
  return {
    id: 'panelDeco',
    beforeDatasetsDraw(chart) {
      const a = chart.chartArea, ctx = chart.ctx;
      ctx.save();
      ctx.strokeStyle = '#7a7a7a';
      ctx.lineWidth = 1.5;
      ctx.strokeRect(a.left, a.top, a.right - a.left, a.bottom - a.top);
      ctx.restore();
    },
    afterDatasetsDraw(chart) {
      const a = chart.chartArea, ctx = chart.ctx;
      ctx.save();
      ctx.font = '18px ' + FONT;
      ctx.fillStyle = '#222';
      ctx.textAlign = 'right';
      ctx.textBaseline = 'middle';
      ctx.fillText(texts.top, a.right - texts.topR, a.top + texts.topY);
      ctx.fillText(texts.bottom, a.right - texts.botR, a.bottom - texts.botY);
      ctx.restore();
    }
  };
}

function makePanel(id, p) {
  const datasets = [];
  (p.dots || []).forEach(d => datasets.push({
    data: pts(d.data), order: 0, pointRadius: 7, pointBackgroundColor: d.color,
    pointBorderColor: 'rgba(225,205,205,0.9)', pointBorderWidth: 1, showLine: false
  }));
  (p.crosses || []).forEach(c => datasets.push({
    data: pts(c.data), order: 1, pointStyle: 'crossRot', pointRadius: 7,
    pointBorderColor: c.color, pointBorderWidth: 1.6, showLine: false, clip: 8
  }));
  [p.upper, p.lower].forEach(b => datasets.push({
    data: pts(b), order: 2, showLine: true, pointRadius: 0, borderColor: BAND,
    borderWidth: 1, cubicInterpolationMode: 'monotone'
  }));
  datasets.push({
    data: meanPts(p.mean), order: 3, pointRadius: 3.3, pointBackgroundColor: NAVY,
    pointBorderColor: NAVY, pointBorderWidth: 1, showLine: false
  });

  const left = p.col === 0;
  const yWidth = left ? 88.3 : 86;
  const xHeight = p.row === 2 ? 59 : 0;
  const pad = [[35, 12], [18, 19], [14, 0]][p.row];

  new Chart(document.getElementById(id), {
    type: 'scatter',
    data: { datasets },
    options: {
      responsive: false, animation: false, events: [],
      layout: { padding: { left: 0, right: left ? 34.3 : 18.3, top: pad[0], bottom: pad[1] } },
      plugins: { legend: { display: false }, tooltip: { enabled: false } },
      scales: {
        x: {
          min: 0, max: 100,
          ticks: { display: p.row === 2, stepSize: 20, padding: 9, color: '#222', font: { family: FONT, size: 17.5 } },
          grid: { color: '#cfcfcf', lineWidth: 1, drawTicks: false },
          border: { display: false, dash: [14, 7] },
          title: { display: p.row === 2, text: 'Time (%SUP)', color: '#222', font: { family: FONT, size: 18 }, padding: { top: 0, bottom: 2 } },
          afterFit(s) { s.height = xHeight; s.paddingLeft = 0; s.paddingRight = 0; }
        },
        y: {
          min: p.ymin, max: p.ymax,
          ticks: { stepSize: p.step, padding: 10, color: '#222', font: { family: FONT, size: 17.5 },
                   callback: v => Number(v).toFixed(p.dec) },
          grid: { color: '#cfcfcf', lineWidth: 1, drawTicks: false },
          border: { display: false, dash: [14, 7] },
          title: { display: !!p.yTitle, text: p.yTitle || '', color: '#222', font: { family: FONT, size: 18 }, padding: { top: p.yTitlePad || 0, bottom: 0 } },
          afterFit(s) { s.width = yWidth; }
        }
      }
    },
    plugins: [panelPlugin(p.texts)]
  });
}

makePanel('c0', { col: 0, row: 0, ymin: -20, ymax: 140, step: 20, dec: 0, yTitle: 'Long axis', yTitlePad: 10,
  mean: tlMean, upper: tlUpper, lower: tlLower,
  crosses: [{ data: tlRed, color: RED }], dots: [{ data: tlDotRed, color: RED }],
  texts: { top: 'Compression', topR: 22.7, topY: 12, bottom: 'Traction', botR: 11.7, botY: 19 } });

makePanel('c1', { col: 1, row: 0, ymin: -1.5, ymax: 1.5, step: 0.5, dec: 2,
  mean: trMean, upper: trUpper, lower: trLower,
  crosses: [{ data: trRed, color: RED }, { data: trBlue, color: BLUE }],
  dots: [{ data: trDotRed, color: RED }, { data: trDotBlue, color: BLUE }],
  texts: { top: 'External rotation', topR: 21.7, topY: 12, bottom: 'Internal rotation', botR: 22.7, botY: 19 } });

makePanel('c2', { col: 0, row: 1, ymin: -5, ymax: 25, step: 5, dec: 0, yTitle: 'Medio-lateral axis', yTitlePad: 21,
  mean: mlMean, upper: mlUpper, lower: mlLower,
  crosses: [{ data: mlRed, color: RED }], dots: [{ data: mlDotRed, color: RED }],
  texts: { top: 'Lateral', topR: 9, topY: 11.3, bottom: 'Medial', botR: 8.7, botY: 15.3 } });

makePanel('c3', { col: 1, row: 1, ymin: -2, ymax: 5, step: 1, dec: 2,
  mean: mrMean, upper: mrUpper, lower: mrLower,
  crosses: [{ data: mrRed, color: RED }], dots: [{ data: mrDotRed, color: RED }],
  texts: { top: 'Anterior rotation', topR: 24.7, topY: 12, bottom: 'Posterior rotation', botR: 26.7, botY: 15.3 } });

makePanel('c4', { col: 0, row: 2, ymin: -7.5, ymax: 10, step: 2.5, dec: 1, yTitle: 'Antero-posterior axis', yTitlePad: 5,
  mean: blMean, upper: blUpper, lower: blLower,
  crosses: [{ data: blRed, color: RED }, { data: blBlue, color: BLUE }],
  dots: [{ data: blDotRed, color: RED }, { data: blDotBlue, color: BLUE }],
  texts: { top: 'Anterior', topR: 11.4, topY: 11.7, bottom: 'Posterior', botR: 14, botY: 18 } });

makePanel('c5', { col: 1, row: 2, ymin: -4, ymax: 2, step: 1, dec: 2,
  mean: brMean, upper: brUpper, lower: brLower,
  crosses: [{ data: brRed, color: RED }], dots: [{ data: brDotRed, color: RED }],
  texts: { top: 'Lateral rotation', topR: 21, topY: 12.7, bottom: 'Medial rotation', botR: 20, botY: 18 } });
</script>
</body>
</html>
